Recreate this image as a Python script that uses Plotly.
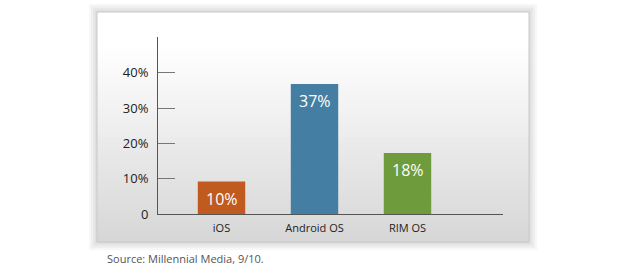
import plotly.graph_objects as go

categories = ["iOS", "Android OS", "RIM OS"]
values = [9.2, 36.8, 17.3]
value_labels = ["10%", "37%", "18%"]
bar_colors = ["#C05A1E", "#447FA3", "#6E9B3C"]
y_tickvals = [0, 10, 20, 30, 40]
y_ticktext = ["0", "10%", "20%", "30%", "40%"]
source_text = "Source: Millennial Media, 9/10."

FONT = "Open Sans"
W, H = 620, 270
ML, MR, MT, MB = 158, 117, 37, 56
PW, PH = W - ML - MR, H - MT - MB

fig = go.Figure()
fig.add_trace(go.Bar(
    x=categories, y=values, marker=dict(color=bar_colors, line=dict(width=0)),
    width=0.51, hoverinfo="skip",
))

for c, v, t in zip(categories, values, value_labels):
    fig.add_annotation(x=c, y=v, text=t, showarrow=False, yanchor="top", yshift=-4,
                       font=dict(family=FONT, size=16, color="white"))

shapes = []
# panel geometry in pixels
px0, px1, py0, py1 = 97, 529, 12, 242

def to_paper(x, y):
    return (x - ML) / PW, (H - MB - y) / PH

def rect(xa, ya, xb, yb, fill, line=None):
    x0, y0 = to_paper(xa, ya)
    x1, y1 = to_paper(xb, yb)
    return dict(type="rect", xref="paper", yref="paper", x0=x0, x1=x1, y0=y1, y1=y0,
                fillcolor=fill, line=line or dict(width=0), layer="below")

# shadow halo
for i, col in enumerate(["#f7f7f7", "#efefef", "#e7e7e7", "#dfdfdf"]):
    d = 8 - 2 * i
    shapes.append(rect(px0 - d, py0 - d, px1 + d, py1 + d, col))
# gradient panel
n = 46
top_c = (255, 255, 255)
bot_c = (214, 214, 214)
for i in range(n):
    ya = py0 + (py1 - py0) * i / n
    yb = py0 + (py1 - py0) * (i + 1) / n
    t = (i + 0.5) / n
    t = max(0.0, (t - 0.15) / 0.85)
    col = tuple(int(round(top_c[k] + (bot_c[k] - top_c[k]) * t)) for k in range(3))
    shapes.append(rect(px0, ya, px1, yb + 0.6, "rgb(%d,%d,%d)" % col))
shapes.append(rect(px0, py0, px1, py1, "rgba(0,0,0,0)", dict(width=1, color="#c8c8c8")))

sx, sy = to_paper(105, 258)
fig.add_annotation(xref="paper", yref="paper", x=sx, y=sy, xanchor="left",
                   yanchor="middle", text=source_text, showarrow=False,
                   font=dict(family=FONT, size=11, color="#555555"))

fig.update_layout(
    width=W, height=H,
    margin=dict(l=ML, r=MR, t=MT, b=MB),
    paper_bgcolor="white", plot_bgcolor="rgba(0,0,0,0)",
    showlegend=False, shapes=shapes,
    xaxis=dict(range=[-0.683, 3.027], showgrid=False, zeroline=False, showline=True,
               linecolor="#555555", linewidth=1, ticks="", fixedrange=True,
               tickfont=dict(family=FONT, size=11, color="#222222"), ticklabelstandoff=4),
    yaxis=dict(range=[0, 50.1], tickvals=y_tickvals, ticktext=y_ticktext, showgrid=False,
               zeroline=False, showline=True, linecolor="#555555", linewidth=1,
               ticks="inside", ticklen=17, tickcolor="#777777", tickwidth=1,
               tickfont=dict(family=FONT, size=13, color="#222222"), ticklabelstandoff=6,
               fixedrange=True),
)

fig.write_html("out.html", config=dict(displayModeBar=False))
